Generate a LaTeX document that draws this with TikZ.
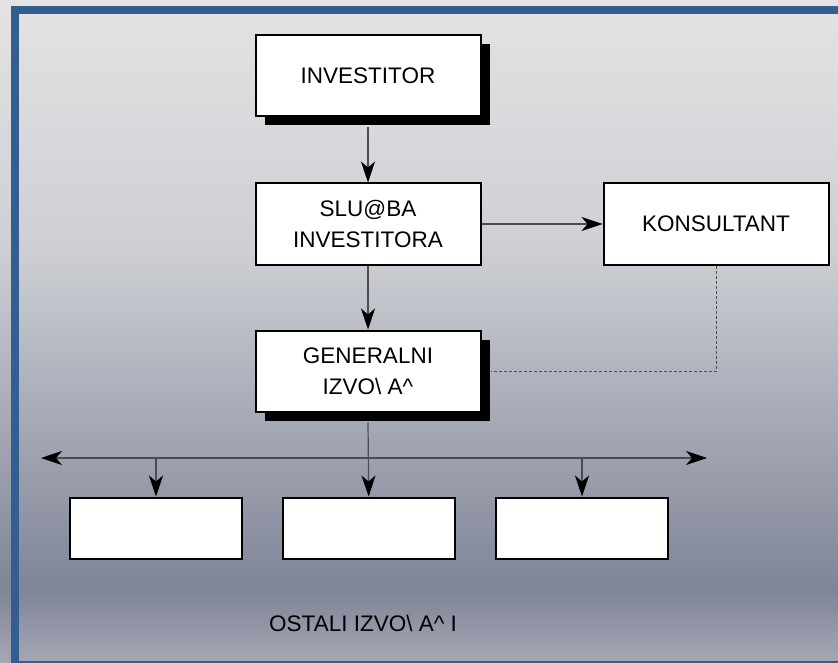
\documentclass[tikz,border=0pt]{standalone}
\usepackage{fontspec}
\setmainfont{Liberation Sans}
\usetikzlibrary{arrows.meta,shadows}

\definecolor{fondhaut}{RGB}{227,227,227}
\definecolor{fondmilieu}{RGB}{205,207,212}
\definecolor{fondbas}{RGB}{127,132,151}
\definecolor{fondpied}{RGB}{165,169,181}
\definecolor{cadre}{RGB}{50,94,145}
\definecolor{trait}{RGB}{75,75,80}

\begin{document}
\begin{tikzpicture}
  [x=1pt, y=-1pt,
  boite/.style={
    draw=black,
    fill=white,
    rectangle,
    line width=2pt,
    inner sep=0pt,
    align=center,
    font=\fontsize{22.5}{31}\selectfont},
  haut/.style={
    boite,
    minimum width=225pt,
    minimum height=81pt},
  bas/.style={
    boite,
    minimum width=172pt,
    minimum height=61pt},
  ombre/.style={
    drop shadow={shadow xshift=9pt, shadow yshift=-9pt, fill=black, opacity=1}},
  lien/.style={
    draw=trait,
    line width=1.2pt,
    -{Stealth[length=21pt, width=14pt, inset=6pt, color=black]}}]

  % fond et cadre
  \useasboundingbox (0,0) rectangle (838,663);
  \shade [top color=fondhaut, bottom color=fondmilieu] (0,0) rectangle (838,251);
  \shade [top color=fondmilieu, bottom color=fondbas] (0,250) rectangle (838,591);
  \shade [top color=fondbas, bottom color=fondpied] (0,590) rectangle (838,663);
  \draw [cadre, line width=8pt] (15,10) rectangle (846,665);

  \node [haut, ombre] at (368,76) (investitor) {INVESTITOR};

  \node [haut] at (368,224) (sluzba) {SLU@BA\\INVESTITORA};

  \node [haut] at (716,224) (konsultant) {KONSULTANT};

  \node [haut, ombre] at (368,371) (generalni) {GENERALNI\\IZVO\textbackslash\ A\textasciicircum};

  \node [bas] at (156,528) (ostali1) {};
  \node [bas] at (369,528) (ostali2) {};
  \node [bas] at (582,528) (ostali3) {};

  \node [font=\fontsize{22.5}{31}\selectfont] at (363,623) (ostali)
    {OSTALI IZVO\textbackslash\ A\textasciicircum\ I};

  \coordinate (gauche) at (41,458);
  \coordinate (droite) at (707,458);

  \draw [lien] ([yshift=-10pt]investitor.south) -- (sluzba);
  \draw [lien] (sluzba) -- (konsultant);
  \draw [lien] (sluzba) -- (generalni);
  \draw [trait, line width=0.8pt, dash pattern=on 3pt off 2pt]
    (konsultant.south) |- ([xshift=9pt]generalni.east);
  \draw [lien] ([yshift=-10pt]generalni.south) -- (ostali2);
  \draw [lien] (generalni.south |- gauche) -- (gauche);
  \draw [lien] (generalni.south |- droite) -- (droite);
  \draw [lien] (ostali1.north |- gauche) -- (ostali1);
  \draw [lien] (ostali3.north |- droite) -- (ostali3);
\end{tikzpicture}
\end{document}
